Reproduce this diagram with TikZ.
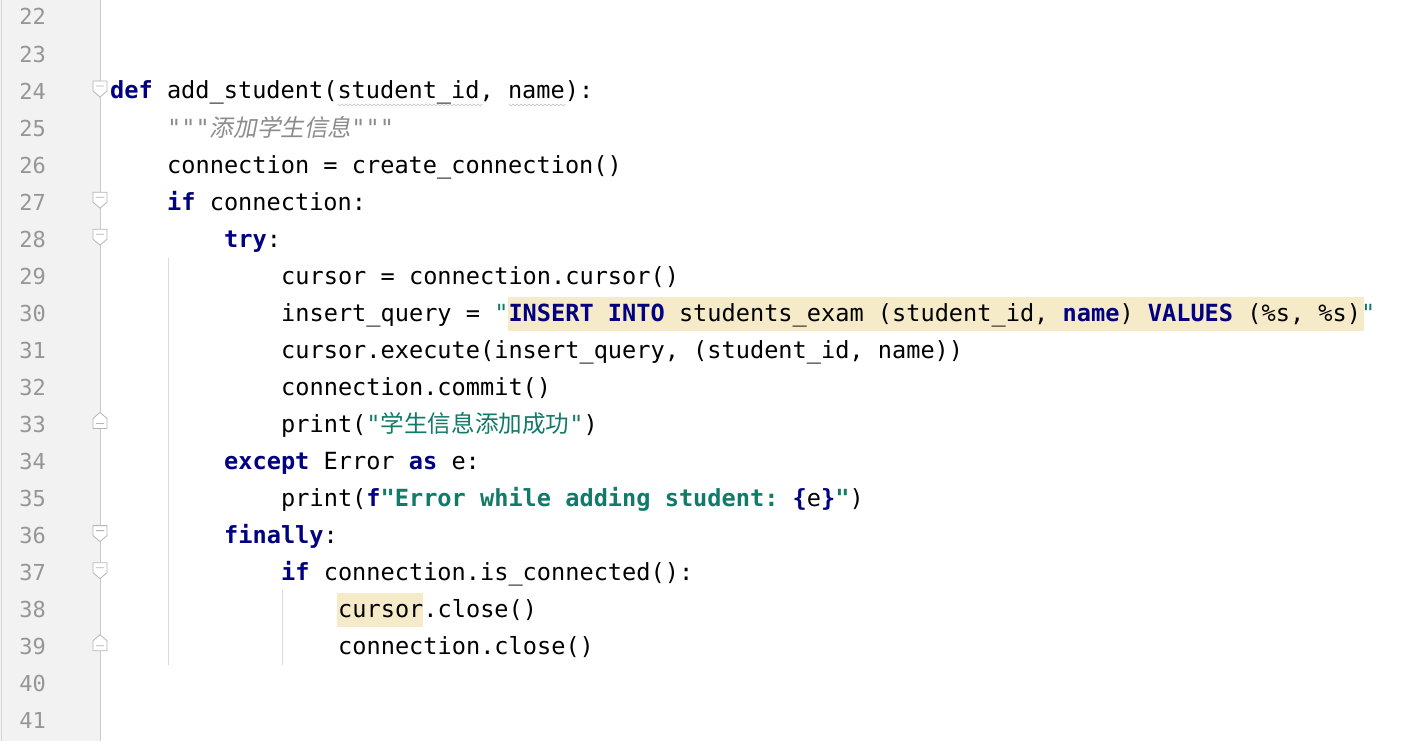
\documentclass[tikz,border=0pt]{standalone}
\usepackage{fontspec}
\setmonofont{DejaVu Sans Mono}
\newfontfamily\cjk{Noto Sans CJK SC}
\newfontfamily\cjki[FakeSlant=0.2]{Noto Sans CJK SC}
\definecolor{kwc}{RGB}{0,0,128}
\definecolor{strc}{RGB}{18,122,104}
\definecolor{docc}{RGB}{140,140,140}
\definecolor{numc}{RGB}{150,150,150}
\definecolor{gutbg}{RGB}{242,242,242}
\definecolor{hl}{RGB}{246,235,200}
\newcommand{\kw}[1]{{\bfseries\color{kwc}#1}}
\newcommand{\st}[1]{{\color{strc}#1}}
\newcommand{\stb}[1]{{\bfseries\color{strc}#1}}
\begin{document}
\begin{tikzpicture}[x=1pt,y=-1pt,
  code/.style={anchor=base west,inner sep=0pt,font=\ttfamily\fontsize{23.6}{26}\selectfont},
  lnum/.style={anchor=base east,inner sep=0pt,text=numc,font=\ttfamily\fontsize{22}{24}\selectfont},
  foldopen/.style={draw=numc!70,line width=0.8pt,fill=white},
  ]
\useasboundingbox (0,0) rectangle (1412,741);
\fill[white] (0,0) rectangle (1412,741);
\fill[gutbg] (0,0) rectangle (100,741);
\draw[numc!40,line width=1pt] (1,0) -- (1,741);
\draw[numc!50,line width=0.8pt] (100,0) -- (100,741);
% highlights
\fill[hl] (508,297) rectangle (1364,331);
\fill[hl] (337,593) rectangle (423,627);
% indent guides
\draw[numc!35,line width=0.8pt] (168,258) -- (168,665);
\draw[numc!35,line width=0.8pt] (282,590) -- (282,665);
% line numbers
\foreach \n [count=\i from 0] in {22,...,41}
  \node[lnum] (n\n) at (46,{25+\i*37.05}) {\n};
% fold markers
\foreach \n in {24,27,28,36,37}
  \draw[foldopen] ({93},{\n*37.05-801.2-7}) -- ++(14,0) -- ++(0,10) -- ++(-7,6) -- ++(-7,-6) -- cycle
    ++(3,5) -- ++(8,0);
\foreach \n in {33,39}
  \draw[foldopen] ({93},{\n*37.05-801.2+7}) -- ++(14,0) -- ++(0,-10) -- ++(-7,-6) -- ++(-7,6) -- cycle
    ++(3,-5) -- ++(8,0);
% code
\def\by#1{\fpeval{99+(#1-24)*37.05}}
\node[code] (l24) at (110,{99}) {\kw{def} add\_student(student\_id, name):};
\node[code] (l25) at (167,{99+1*37.05}) {\color{docc}\itshape """{\cjki 添加学生信息}"""};
\node[code] (l26) at (167,{99+2*37.05}) {connection = create\_connection()};
\node[code] (l27) at (167,{99+3*37.05}) {\kw{if} connection:};
\node[code] (l28) at (224,{99+4*37.05}) {\kw{try}:};
\node[code] (l29) at (281,{99+5*37.05}) {cursor = connection.cursor()};
\node[code] (l30) at (281,{99+6*37.05}) {insert\_query = \st{"}\kw{INSERT INTO} students\_exam (student\_id, \kw{name}) \kw{VALUES} (\%s, \%s)\st{"}};
\node[code] (l31) at (281,{99+7*37.05}) {cursor.execute(insert\_query, (student\_id, name))};
\node[code] (l32) at (281,{99+8*37.05}) {connection.commit()};
\node[code] (l33) at (281,{99+9*37.05}) {print(\st{"{\cjk 学生信息添加成功}"})};
\node[code] (l34) at (224,{99+10*37.05}) {\kw{except} Error \kw{as} e:};
\node[code] (l35) at (281,{99+11*37.05}) {print(\kw{f}\stb{"Error while adding student: }\kw{\{}e\kw{\}}\stb{"})};
\node[code] (l36) at (224,{99+12*37.05}) {\kw{finally}:};
\node[code] (l37) at (281,{99+13*37.05}) {\kw{if} connection.is\_connected():};
\node[code] (l38) at (338,{99+14*37.05}) {cursor.close()};
\node[code] (l39) at (338,{99+15*37.05}) {connection.close()};
% wavy underline hints
\draw[numc!60,line width=0.5pt] (338,104) \foreach \k in {0,...,35} {-- ++(2,2) -- ++(2,-2)};
\draw[numc!60,line width=0.5pt] (509,104) \foreach \k in {0,...,13} {-- ++(2,2) -- ++(2,-2)};
\end{tikzpicture}
\end{document}
